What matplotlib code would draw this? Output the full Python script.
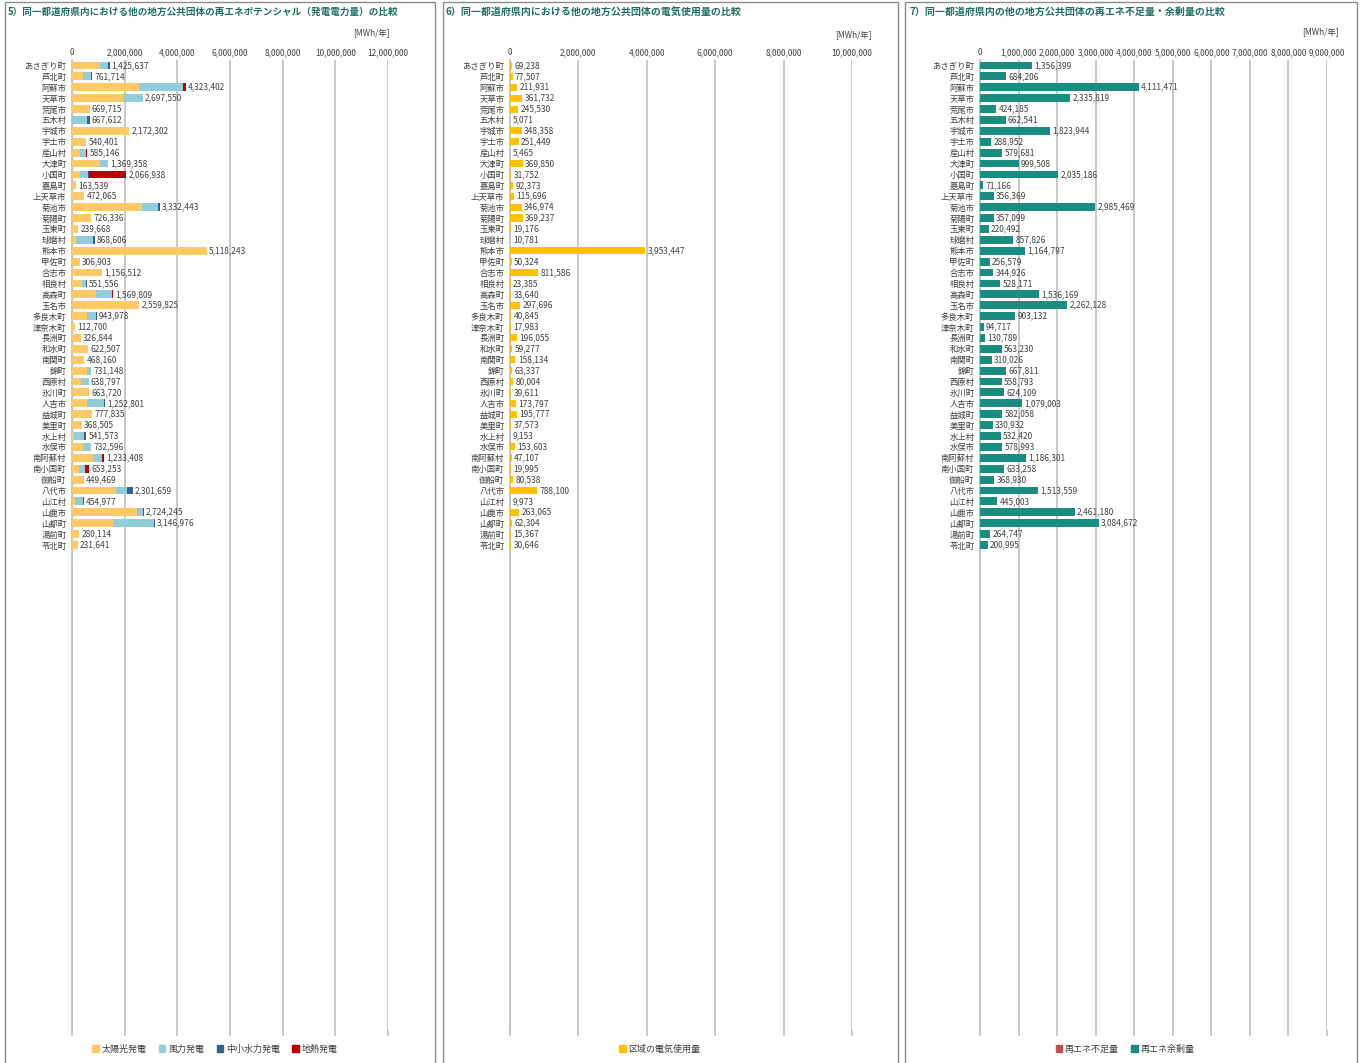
import numpy as np
import matplotlib.pyplot as plt
from matplotlib.patches import Rectangle, Patch

plt.rcParams['font.family'] = ['Noto Sans CJK JP', 'DejaVu Sans']

towns = ['あさぎり町', '芦北町', '阿蘇市', '天草市', '荒尾市', '五木村', '宇城市', '宇土市',
         '産山村', '大津町', '小国町', '嘉島町', '上天草市', '菊池市', '菊陽町', '玉東町',
         '球磨村', '熊本市', '甲佐町', '合志市', '相良村', '高森町', '玉名市', '多良木町',
         '津奈木町', '長洲町', '和水町', '南関町', '錦町', '西原村', '氷川町', '人吉市',
         '益城町', '美里町', '水上村', '水俣市', '南阿蘇村', '南小国町', '御船町', '八代市',
         '山江村', '山鹿市', '山都町', '湯前町', '苓北町']

# 5) potential by source [MWh/year]
solar = [1080000, 410000, 2550000, 1925000, 669715, 0, 2150000, 540401,
         320000, 1045000, 290000, 163539, 472065, 2640000, 726336, 239668,
         166000, 5118243, 306903, 1156512, 370000, 917000, 2559825, 573000,
         112700, 326844, 622507, 468160, 573000, 357000, 663720, 586000,
         777835, 368505, 89000, 408000, 803000, 280000, 420000, 1670000,
         127000, 2460000, 1554000, 260000, 215000]
wind = [280000, 317000, 1680000, 772550, 0, 570000, 22302, 0,
        228000, 305000, 320000, 0, 0, 610000, 0, 0,
        624000, 0, 0, 0, 165000, 613000, 0, 357000,
        0, 0, 0, 0, 158148, 281797, 0, 624000,
        0, 0, 382000, 305000, 331000, 204000, 29469, 430000,
        293000, 245000, 1565000, 20114, 16641]
hydro = [65637, 34714, 0, 0, 0, 97612, 0, 0,
         0, 19358, 25000, 0, 0, 82443, 0, 0,
         78606, 0, 0, 0, 16556, 0, 0, 13978,
         0, 0, 0, 0, 0, 0, 0, 42801,
         0, 0, 70573, 19596, 0, 25000, 0, 201659,
         34977, 19245, 27976, 0, 0]
geo = [0, 0, 93402, 0, 0, 0, 0, 0,
       37146, 0, 1431938, 0, 0, 0, 0, 0,
       0, 0, 0, 0, 0, 39809, 0, 0,
       0, 0, 0, 0, 0, 0, 0, 0,
       0, 0, 0, 0, 99408, 144253, 0, 0,
       0, 0, 0, 0, 0]

# 6) electricity use [MWh/year]
usage = [69238, 77507, 211931, 361732, 245530, 5071, 348358, 251449,
         5465, 369850, 31752, 92373, 115696, 346974, 369237, 19176,
         10781, 3953447, 50324, 811586, 23385, 33640, 297696, 40845,
         17983, 196055, 59277, 158134, 63337, 80004, 39611, 173797,
         195777, 37573, 9153, 153603, 47107, 19995, 80538, 788100,
         9973, 263065, 62304, 15367, 30646]

# 7) surplus [MWh/year]
surplus = [1356399, 684206, 4111471, 2335819, 424185, 662541, 1823944, 288952,
           579681, 999508, 2035186, 71166, 356369, 2985469, 357099, 220492,
           857826, 1164797, 256579, 344926, 528171, 1536169, 2262128, 903132,
           94717, 130789, 563230, 310026, 667811, 558793, 624109, 1079003,
           582058, 330932, 532420, 578993, 1186301, 633258, 368930, 1513559,
           445003, 2461180, 3084672, 264747, 200995]

titles = ['5）同一都道府県内における他の地方公共団体の再エネポテンシャル（発電電力量）の比較',
          '6）同一都道府県内における他の地方公共団体の電気使用量の比較',
          '7）同一都道府県内の他の地方公共団体の再エネ不足量・余剰量の比較']

W, H = 1363, 1063
fig = plt.figure(figsize=(W / 100, H / 100), dpi=100)

TITLE_C = '#1F6F5F'
GRID_C = '#BFBFBF'
TXT_C = '#404040'
NSLOT = 89
AX_TOP, AX_BOT = 60, 1030


def fx(px):
    return px / W


def fy(py):
    return 1 - py / H


# panel frames and titles
frames = [(5, 435), (443, 898), (905, 1357)]
title_x = [8, 446, 910]
title_fs = [6.9, 7.2, 7.2]
for (x0, x1), tx, t, fs in zip(frames, title_x, titles, title_fs):
    fig.patches.append(Rectangle((fx(x0), fy(1070)), fx(x1 - x0), fy(2) - fy(1070),
                                 transform=fig.transFigure, fill=False,
                                 edgecolor='#8C8C8C', lw=1.0))
    fig.text(fx(tx), fy(12), t, color=TITLE_C, fontsize=fs, fontweight='bold',
             va='center', ha='left')


def make_axes(left, right, xmax, step):
    ax = fig.add_axes([fx(left), fy(AX_BOT), fx(right - left), fy(AX_TOP) - fy(AX_BOT)])
    ax.set_xlim(0, xmax)
    ax.set_ylim(NSLOT - 0.5, -0.5)
    ticks = np.arange(0, xmax + 1, step)
    ax.set_xticks(ticks)
    ax.set_xticklabels([f'{int(t):,}' for t in ticks])
    ax.xaxis.set_ticks_position('bottom')
    ax.tick_params(axis='x', top=False, labeltop=True, bottom=True, labelbottom=False,
                   length=4, color=GRID_C, width=1.2, labelsize=6, labelcolor=TXT_C, pad=-2)
    ax.set_yticks(range(len(towns)))
    ax.set_yticklabels(towns)
    ax.tick_params(axis='y', length=0, labelsize=6, labelcolor=TXT_C, pad=4)
    ax.grid(axis='x', color=GRID_C, lw=1.2)
    ax.set_axisbelow(True)
    for s in ['top', 'right', 'bottom']:
        ax.spines[s].set_visible(False)
    ax.spines['left'].set_color(GRID_C)
    ax.spines['left'].set_linewidth(1.2)
    ax.spines['left'].set_zorder(0.5)
    return ax


y = np.arange(len(towns))

# ---- panel 5
ax1 = make_axes(72, 388, 12000000, 2000000)
cols = ['#FFC966', '#92CDDC', '#366092', '#C00000']
names = ['太陽光発電', '風力発電', '中小水力発電', '地熱発電']
left = np.zeros(len(towns))
for vals, c in zip([solar, wind, hydro, geo], cols):
    v = np.array(vals, dtype=float)
    ax1.barh(y, v, left=left, height=0.72, color=c, edgecolor='none')
    left += v
for yi, tot in zip(y, left):
    ax1.text(tot + 80000, yi, f'{int(tot):,}', va='center', ha='left', fontsize=6, color=TXT_C)
fig.text(fx(390), fy(33), '[MWh/年]', ha='right', va='center', fontsize=6, color=TXT_C)
fig.legend([Patch(color=c) for c in cols], names, loc='center',
           bbox_to_anchor=(fx(215), fy(1049)), ncol=4, frameon=False, fontsize=6.5,
           handlelength=0.7, handleheight=0.7, handletextpad=0.3, columnspacing=1.4,
           labelcolor=TXT_C)

# ---- panel 6
ax2 = make_axes(510, 852, 10000000, 2000000)
ax2.barh(y, usage, height=0.65, color='#FFC000', edgecolor='none')
for yi, v in zip(y, usage):
    ax2.text(v + 70000, yi, f'{v:,}', va='center', ha='left', fontsize=6, color=TXT_C)
fig.text(fx(872), fy(35), '[MWh/年]', ha='right', va='center', fontsize=6, color=TXT_C)
fig.legend([Patch(color='#FFC000')], ['区域の電気使用量'], loc='center',
           bbox_to_anchor=(fx(660), fy(1049)), frameon=False, fontsize=6.5,
           handlelength=0.7, handleheight=0.7, handletextpad=0.3, labelcolor=TXT_C)

# ---- panel 7
ax3 = make_axes(980, 1327, 9000000, 1000000)
ax3.barh(y, surplus, height=0.72, color='#1B8C80', edgecolor='none')
for yi, v in zip(y, surplus):
    ax3.text(v + 60000, yi, f'{v:,}', va='center', ha='left', fontsize=6, color=TXT_C)
fig.text(fx(1339), fy(32), '[MWh/年]', ha='right', va='center', fontsize=6, color=TXT_C)
fig.legend([Patch(color='#C0504D'), Patch(color='#1B8C80')], ['再エネ不足量', '再エネ余剰量'],
           loc='center', bbox_to_anchor=(fx(1125), fy(1049)), ncol=2, frameon=False,
           fontsize=6.5, handlelength=0.7, handleheight=0.7, handletextpad=0.3,
           columnspacing=1.4, labelcolor=TXT_C)

fig.savefig('out.png', dpi=100)
